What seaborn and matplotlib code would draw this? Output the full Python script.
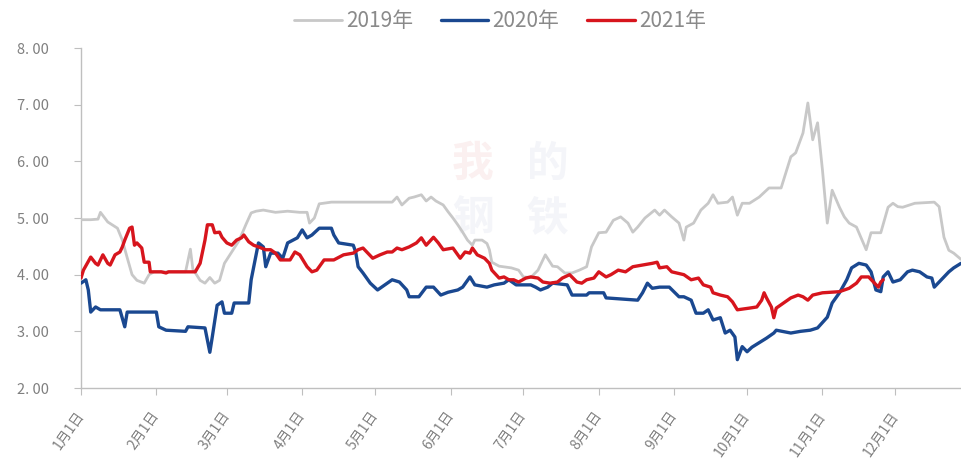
import matplotlib
matplotlib.use("Agg")
import matplotlib.pyplot as plt
import matplotlib.transforms as mtransforms
import seaborn as sns
import pandas as pd

# Day of year (0 = 1月1日) and price for each year
days_2019 = [0, 4, 7, 8, 11, 15, 17, 19, 21, 23, 26, 28, 30, 43, 45, 46, 49, 51, 53, 55,
             57, 59, 62, 65, 68, 70, 72, 75, 80, 85, 90, 93, 94, 96, 98, 103, 128, 130, 132, 135,
             137, 140, 142, 144, 146, 149, 151, 153, 155, 157, 159, 161, 162, 165, 167, 168, 169, 172, 177, 180,
             182, 185, 188, 191, 194, 196, 199, 202, 205, 208, 210, 213, 216, 219, 222, 225, 227, 229, 232, 236,
             238, 240, 243, 246, 248, 249, 252, 255, 258, 260, 262, 266, 268, 270, 272, 275, 279, 283, 288, 292,
             294, 297, 299, 301, 303, 305, 307, 309, 312, 314, 316, 319, 323, 325, 329, 332, 334, 336, 338, 343,
             351, 353, 355, 357, 359, 362]
price_2019 = [4.97, 4.97, 4.98, 5.10, 4.93, 4.82, 4.61, 4.30, 4.00, 3.90, 3.85, 4.00, 4.05, 4.05, 4.45, 4.10, 3.90, 3.85, 3.95, 3.85,
              3.90, 4.20, 4.40, 4.60, 4.90, 5.09, 5.12, 5.14, 5.10, 5.12, 5.10, 5.10, 4.91, 5.00, 5.25, 5.28, 5.28, 5.37, 5.23, 5.35,
              5.37, 5.41, 5.30, 5.37, 5.30, 5.23, 5.11, 5.00, 4.88, 4.75, 4.61, 4.52, 4.61, 4.61, 4.55, 4.44, 4.22, 4.15, 4.12, 4.08,
              3.96, 3.95, 4.08, 4.35, 4.15, 4.14, 4.03, 4.03, 4.08, 4.14, 4.49, 4.74, 4.75, 4.96, 5.02, 4.91, 4.75, 4.84, 5.00, 5.14,
              5.05, 5.14, 5.02, 4.91, 4.61, 4.84, 4.91, 5.14, 5.26, 5.41, 5.26, 5.28, 5.37, 5.05, 5.26, 5.26, 5.37, 5.53, 5.53, 6.08,
              6.15, 6.50, 7.03, 6.38, 6.68, 5.85, 4.91, 5.49, 5.19, 5.02, 4.91, 4.84, 4.44, 4.74, 4.74, 5.19, 5.26, 5.20, 5.19, 5.26,
              5.28, 5.20, 4.66, 4.43, 4.38, 4.27]

days_2020 = [0, 2, 3, 4, 6, 8, 16, 18, 19, 31, 32, 35, 43, 44, 51, 53, 54, 56, 58, 59,
             62, 63, 69, 70, 73, 75, 76, 78, 81, 83, 85, 89, 91, 93, 95, 98, 103, 104, 106, 112,
             113, 114, 116, 119, 122, 125, 128, 131, 134, 135, 139, 142, 145, 148, 151, 155, 157, 160, 162, 167,
             170, 174, 176, 179, 185, 187, 189, 192, 194, 200, 202, 208, 209, 215, 216, 229, 231, 233, 235, 238,
             242, 246, 248, 251, 253, 256, 258, 260, 263, 265, 267, 269, 270, 272, 274, 276, 279, 282, 285, 286,
             292, 296, 300, 303, 307, 309, 312, 315, 317, 320, 323, 325, 327, 329, 330, 332, 334, 337, 340, 342,
             345, 348, 350, 351, 353, 355, 357, 359, 362]
price_2020 = [3.85, 3.91, 3.73, 3.34, 3.43, 3.38, 3.38, 3.08, 3.34, 3.34, 3.08, 3.02, 3.00, 3.08, 3.06, 2.63, 2.90, 3.46, 3.52, 3.32,
              3.32, 3.50, 3.50, 3.91, 4.56, 4.49, 4.14, 4.38, 4.38, 4.29, 4.56, 4.65, 4.79, 4.65, 4.70, 4.82, 4.82, 4.70, 4.56, 4.52,
              4.40, 4.14, 4.03, 3.85, 3.73, 3.82, 3.91, 3.87, 3.73, 3.61, 3.61, 3.78, 3.78, 3.64, 3.69, 3.73, 3.78, 3.96, 3.82, 3.78,
              3.82, 3.85, 3.91, 3.82, 3.82, 3.78, 3.73, 3.78, 3.85, 3.82, 3.64, 3.64, 3.68, 3.68, 3.59, 3.55, 3.68, 3.85, 3.76, 3.78,
              3.78, 3.61, 3.61, 3.55, 3.32, 3.32, 3.38, 3.20, 3.24, 2.97, 3.02, 2.90, 2.50, 2.73, 2.64, 2.72, 2.80, 2.88, 2.97, 3.02,
              2.97, 3.00, 3.02, 3.06, 3.25, 3.50, 3.68, 3.91, 4.12, 4.20, 4.17, 4.05, 3.73, 3.70, 3.96, 4.05, 3.87, 3.91, 4.05, 4.08,
              4.05, 3.96, 3.94, 3.78, 3.87, 3.96, 4.05, 4.12, 4.20]

days_2021 = [0, 1, 4, 6, 7, 9, 11, 12, 14, 16, 17, 18, 20, 21, 22, 23, 25, 26, 28, 28.5,
             33, 35, 36, 47, 49, 51, 52, 54, 55, 57, 58, 60, 62, 64, 66, 67, 69, 71, 73, 76,
             78, 80, 82, 86, 88, 90, 93, 95, 97, 100, 104, 108, 112, 114, 116, 118, 120, 123, 126, 128,
             130, 132, 135, 138, 140, 142, 145, 147, 149, 153, 155, 156, 158, 160, 161, 163, 166, 168, 169, 172,
             174, 176, 178, 180, 183, 185, 188, 190, 193, 196, 198, 201, 204, 206, 208, 211, 213, 216, 218, 221,
             224, 227, 231, 235, 237, 238, 241, 243, 245, 248, 251, 254, 256, 259, 260, 263, 266, 268, 270, 275,
             278, 280, 281, 282, 284, 285, 286, 289, 292, 295, 297, 299, 301, 305, 312, 316, 319, 321, 324, 326,
             328, 329, 330]
price_2021 = [3.94, 4.08, 4.31, 4.20, 4.17, 4.35, 4.20, 4.17, 4.35, 4.40, 4.49, 4.61, 4.82, 4.84, 4.52, 4.56, 4.47, 4.22, 4.22, 4.05,
              4.05, 4.03, 4.05, 4.05, 4.20, 4.61, 4.88, 4.88, 4.74, 4.75, 4.66, 4.56, 4.52, 4.61, 4.65, 4.70, 4.58, 4.52, 4.49, 4.44,
              4.44, 4.38, 4.26, 4.26, 4.40, 4.35, 4.14, 4.05, 4.08, 4.26, 4.26, 4.35, 4.38, 4.44, 4.47, 4.38, 4.29, 4.35, 4.40, 4.40,
              4.47, 4.44, 4.49, 4.56, 4.65, 4.52, 4.66, 4.56, 4.44, 4.47, 4.35, 4.29, 4.40, 4.38, 4.47, 4.35, 4.29, 4.20, 4.08, 3.94,
              3.96, 3.91, 3.91, 3.87, 3.94, 3.96, 3.94, 3.87, 3.85, 3.87, 3.94, 4.00, 3.87, 3.85, 3.91, 3.94, 4.05, 3.96, 4.00, 4.08,
              4.05, 4.14, 4.17, 4.20, 4.22, 4.12, 4.14, 4.05, 4.03, 4.00, 3.91, 3.94, 3.82, 3.78, 3.68, 3.64, 3.61, 3.52, 3.38, 3.41,
              3.43, 3.55, 3.68, 3.59, 3.43, 3.24, 3.41, 3.50, 3.59, 3.64, 3.61, 3.55, 3.64, 3.68, 3.70, 3.76, 3.85, 3.96, 3.96, 3.87,
              3.78, 3.87, 3.91]

series_names = ["2019年", "2020年", "2021年"]
series_colors = ["#C8C8C8", "#1A4890", "#D7151D"]
series_widths = [2.0, 2.4, 2.4]

tick_days = [0, 31, 60, 91, 121, 152, 182, 213, 244, 274, 305, 335]
tick_labels = ["1月1日", "2月1日", "3月1日", "4月1日", "5月1日", "6月1日",
               "7月1日", "8月1日", "9月1日", "10月1日", "11月1日", "12月1日"]
y_ticks = [2, 3, 4, 5, 6, 7, 8]

df = pd.concat([
    pd.DataFrame({"day": days_2019, "price": price_2019, "year": series_names[0]}),
    pd.DataFrame({"day": days_2020, "price": price_2020, "year": series_names[1]}),
    pd.DataFrame({"day": days_2021, "price": price_2021, "year": series_names[2]}),
])

sns.set_theme(style="white")
plt.rcParams["font.family"] = ["Noto Sans CJK SC", "DejaVu Sans"]

fig = plt.figure(figsize=(9.61, 4.68), dpi=100)
ax = fig.add_axes([81 / 961, 1 - 388 / 468, 1 - 81 / 961, (388 - 48) / 468])

# very faint watermark behind the lines
wm_kw = dict(transform=ax.transAxes, fontsize=30, fontweight="bold", ha="center", va="center", zorder=0)
ax.text(0.445, 0.66, "我", color="#FBF0F0", **wm_kw)
ax.text(0.53, 0.66, "的", color="#F4F5F9", **wm_kw)
ax.text(0.445, 0.50, "钢", color="#F4F5F9", **wm_kw)
ax.text(0.53, 0.50, "铁", color="#F4F5F9", **wm_kw)

for name, color, lw in zip(series_names, series_colors, series_widths):
    sub = df[df["year"] == name]
    sns.lineplot(data=sub, x="day", y="price", ax=ax, color=color, linewidth=lw,
                 estimator=None, sort=False, label=name, zorder=3)

ax.set_xlim(0, 362)
ax.set_ylim(2, 8)
ax.set_xlabel("")
ax.set_ylabel("")

ax.set_yticks(y_ticks)
ax.set_yticklabels([f"{v:.2f}".replace(".", ". ") for v in y_ticks])
ax.set_xticks(tick_days)
ax.set_xticklabels(tick_labels, rotation=55, ha="right", va="center", rotation_mode="anchor")
offset = mtransforms.ScaledTranslation(6 / 100, 0, fig.dpi_scale_trans)
for lbl in ax.get_xticklabels():
    lbl.set_transform(lbl.get_transform() + offset)

ax.tick_params(axis="y", which="major", direction="out", length=5, width=0.8,
               color="#BFBFBF", labelcolor="#7F7F7F", labelsize=10.5, pad=18, left=True)
ax.tick_params(axis="x", which="major", direction="out", length=5, width=0.8,
               color="#BFBFBF", labelcolor="#7F7F7F", labelsize=10, pad=13, bottom=True)

for side in ["top", "right"]:
    ax.spines[side].set_visible(False)
for side in ["left", "bottom"]:
    ax.spines[side].set_color("#BFBFBF")
    ax.spines[side].set_linewidth(1.0)

handles, labels = ax.get_legend_handles_labels()
ax.get_legend().remove()
fig.legend(handles, labels, loc="center", bbox_to_anchor=(500 / 961, 1 - 21 / 468), ncol=3,
           frameon=False, fontsize=15, handlelength=2.3, handletextpad=0.2, columnspacing=1.3,
           labelcolor="#8A8A8A")

fig.savefig("out.png", dpi=100, facecolor="white")
